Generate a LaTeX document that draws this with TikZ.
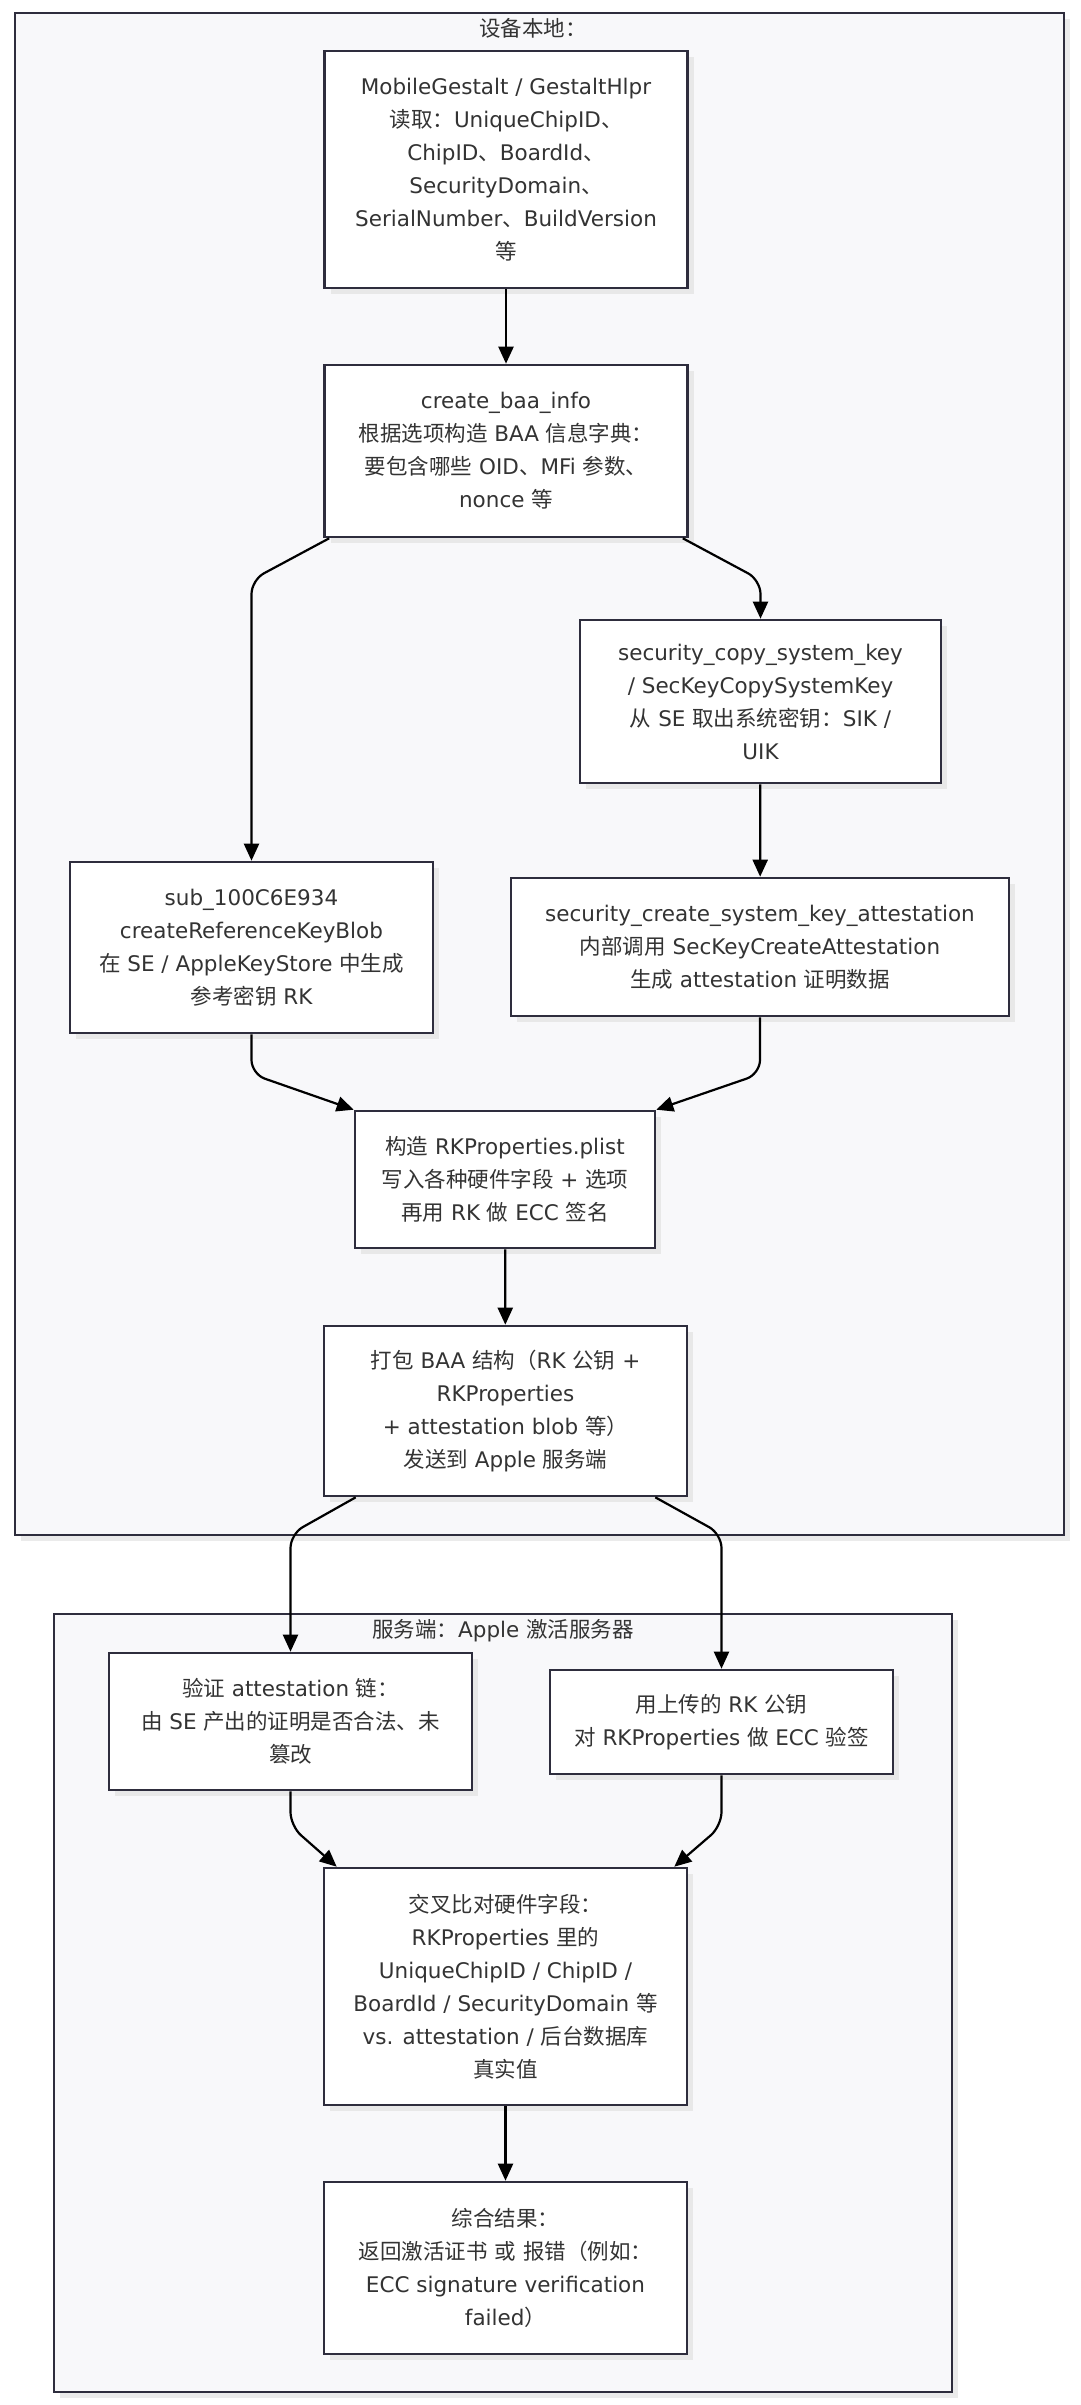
\documentclass[tikz,border=0pt]{standalone}
\usepackage{fontspec}
\setmainfont{DejaVu Sans}
\newfontfamily\cjkfont{Noto Sans CJK SC}
\newfontfamily\latinfont{DejaVu Sans}
% switch to the CJK font for Chinese characters
\XeTeXinterchartokenstate=1
\newXeTeXintercharclass\cjkclass
\newcount\cjkcode
\def\setcjkrange#1#2{\cjkcode=#1 \loop\XeTeXcharclass\cjkcode=\cjkclass \ifnum\cjkcode<#2 \advance\cjkcode by 1 \repeat}
\setcjkrange{"3000}{"303F}
\setcjkrange{"4E00}{"9FFF}
\setcjkrange{"FF00}{"FFEF}
\XeTeXinterchartoks 0 \cjkclass = {\cjkfont}
\XeTeXinterchartoks 4095 \cjkclass = {\cjkfont}
\XeTeXinterchartoks \cjkclass 0 = {\latinfont}
\XeTeXinterchartoks \cjkclass 4095 = {\latinfont}
\usetikzlibrary{arrows.meta,shadows}
\definecolor{boxline}{HTML}{2E2D3D}
\definecolor{clusterfill}{HTML}{F8F8FA}
\definecolor{textgray}{HTML}{333333}

\begin{document}
\begin{tikzpicture}[
		x=1pt, y=-1pt,
		every node/.style={font=\fontsize{21.5}{33}\selectfont, text=textgray, align=center},
		cluster/.style={rectangle, draw=boxline, line width=2.4pt, fill=clusterfill,
			drop shadow={shadow xshift=6pt, shadow yshift=-6pt, fill=black!8, opacity=1}},
		proc/.style={rectangle, draw=boxline, line width=2.6pt, fill=white, minimum width=363, inner sep=2pt,
			drop shadow={shadow xshift=6pt, shadow yshift=-6pt, fill=black!9, opacity=1}},
		flow/.style={draw=black, line width=2.2pt, rounded corners=14pt, -{Triangle[length=17pt, width=15pt]}}
	]
  \useasboundingbox (0,0) rectangle (1080,2405);
  % groups
  \node (device) [cluster, minimum width=1049, minimum height=1522] at (539.5,774) {};
  \node (device_title) at (533,28) {设备本地：};
  \node (server) [cluster, minimum width=898, minimum height=778] at (503,2003) {};
  \node (server_title) at (503,1631) {服务端：Apple 激活服务器};
  % device side
  \node (gestalt) [proc, minimum height=237] at (506,169.5) {MobileGestalt / GestaltHlpr\\读取：UniqueChipID、\\ChipID、BoardId、\\SecurityDomain、\\SerialNumber、BuildVersion\\等};
  \node (baa_info) [proc, minimum height=172] at (506,451) {create\_baa\_info\\根据选项构造 BAA 信息字典：\\要包含哪些 OID、MFi 参数、\\nonce 等};
  \node (sys_key) [proc, minimum width=361, minimum height=163] at (760.5,701.5) {security\_copy\_system\_key\\ / SecKeyCopySystemKey\\从 SE 取出系统密钥：SIK /\\UIK};
  \node (ref_key) [proc, minimum height=171] at (251.5,947.5) {sub\_100C6E934\\createReferenceKeyBlob\\在 SE / AppleKeyStore 中生成\\参考密钥 RK};
  \node (attest) [proc, minimum width=498, minimum height=138] at (760,947) {security\_create\_system\_key\_attestation\\内部调用 SecKeyCreateAttestation\\生成 attestation 证明数据};
  \node (rk_plist) [proc, minimum width=300, minimum height=137] at (505,1179.5) {构造 RKProperties.plist\\写入各种硬件字段 + 选项\\再用 RK 做 ECC 签名};
  \node (pack) [proc, minimum height=170] at (505.5,1411) {打包 BAA 结构（RK 公钥 +\\RKProperties\\+ attestation blob 等）\\发送到 Apple 服务端};
  % server side
  \node (chk_chain) [proc, minimum height=137] at (290.5,1721.5) {验证 attestation 链：\\由 SE 产出的证明是否合法、未\\篡改};
  \node (chk_sig) [proc, minimum width=343, minimum height=104] at (721.5,1722) {用上传的 RK 公钥\\对 RKProperties 做 ECC 验签};
  \node (cross) [proc, minimum height=237] at (505.5,1986.5) {交叉比对硬件字段：\\RKProperties 里的\\UniqueChipID / ChipID /\\BoardId / SecurityDomain 等\\vs. attestation / 后台数据库\\真实值};
  \node (result) [proc, minimum height=172] at (505.5,2268) {综合结果：\\返回激活证书 或 报错（例如：\\ECC signature verification\\failed）};
  % bends
  \coordinate (b_ref) at (251.5,580);
  \coordinate (b_sys) at (760.5,580);
  \coordinate (b_ref2) at (251.5,1074);
  \coordinate (b_att2) at (760,1074);
  \coordinate (b_chain) at (290.5,1534);
  \coordinate (b_sig) at (721.5,1534);
  \coordinate (b_chain2) at (290.5,1826);
  \coordinate (b_sig2) at (721.5,1826);
  % edges
  \draw[flow] (gestalt) -- (baa_info);
  \draw[flow] ([xshift=6pt]baa_info.south west) -- (b_ref) -- (ref_key);
  \draw[flow] ([xshift=-6pt]baa_info.south east) -- (b_sys) -- (sys_key);
  \draw[flow] (sys_key) -- (attest);
  \draw[flow] (ref_key) -- (b_ref2) -- (rk_plist.north west);
  \draw[flow] (attest) -- (b_att2) -- (rk_plist.north east);
  \draw[flow] (rk_plist) -- (pack);
  \draw[flow] ([xshift=33pt]pack.south west) -- (b_chain) -- (chk_chain);
  \draw[flow] ([xshift=-33pt]pack.south east) -- (b_sig) -- (chk_sig);
  \draw[flow] (chk_chain) -- (b_chain2) -- ([xshift=14pt]cross.north west);
  \draw[flow] (chk_sig) -- (b_sig2) -- ([xshift=-14pt]cross.north east);
  \draw[flow] (cross) -- (result);
\end{tikzpicture}
\end{document}
